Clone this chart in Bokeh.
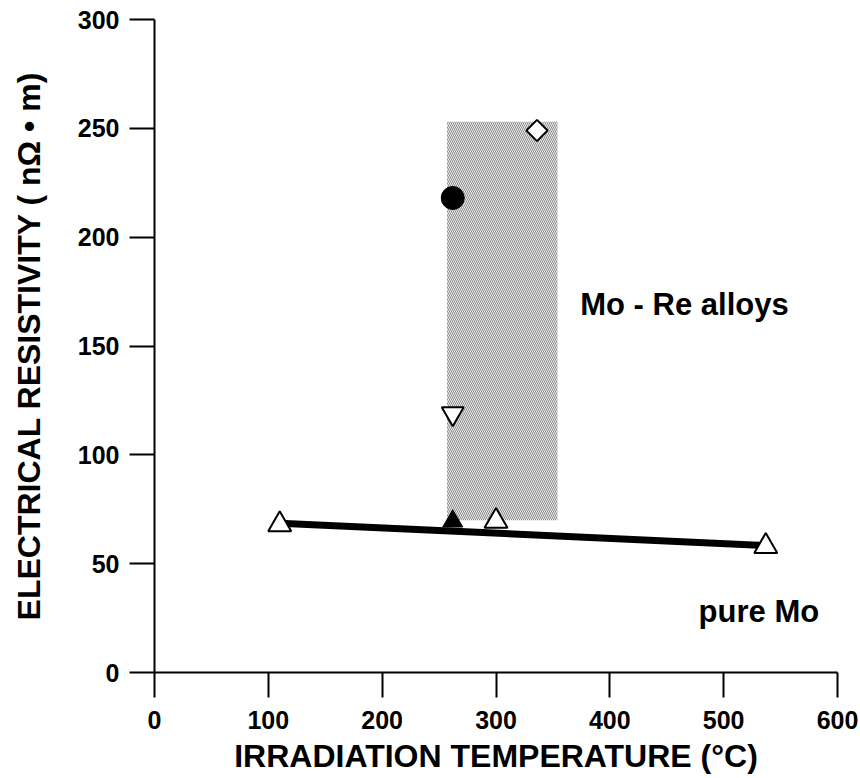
import math
from bokeh.plotting import figure
from bokeh.models import Label, FixedTicker
from bokeh.embed import file_html
from bokeh.resources import INLINE

# ---- data ----
x_ticks = [0, 100, 200, 300, 400, 500, 600]
y_ticks = [0, 50, 100, 150, 200, 250, 300]

# Mo-Re alloys scatter band
band_left = [257]
band_right = [354]
band_bottom = [70]
band_top = [253]

# pure Mo, open up-triangles
pure_mo_x = [110, 300, 537]
pure_mo_y = [68, 69.5, 58]
# pure Mo, filled triangle
pure_mo_filled_x = [262]
pure_mo_filled_y = [69.5]
# fit line through pure Mo
fit_x = [110, 537]
fit_y = [68.6, 58.3]

# Mo-Re alloys
alloy_circle_x = [262]
alloy_circle_y = [218]
alloy_invtri_x = [262]
alloy_invtri_y = [119]
alloy_diamond_x = [336]
alloy_diamond_y = [249]

label_alloys = ("Mo - Re alloys", 374, 169)
label_pure = ("pure Mo", 478, 28)

FONT = "Liberation Sans"

p = figure(
    frame_width=683, frame_height=653,
    x_range=(0, 600), y_range=(0, 300),
    output_backend="svg", toolbar_location=None,
    min_border_left=154, min_border_right=23,
    min_border_top=19, min_border_bottom=106,
    background_fill_color="white", border_fill_color="white",
)
p.outline_line_color = None
p.xgrid.visible = False
p.ygrid.visible = False

# band
p.quad(left=band_left, right=band_right, bottom=band_bottom, top=band_top,
       fill_color="#ececec", line_color=None,
       hatch_pattern="\\", hatch_color="#8c8c8c", hatch_scale=4, hatch_weight=1)

# fit line
p.line(fit_x, fit_y, line_color="black", line_width=7)

# markers
p.scatter(pure_mo_x, pure_mo_y, marker="triangle", size=23,
          fill_color="white", line_color="black", line_width=2)
p.scatter(pure_mo_filled_x, pure_mo_filled_y, marker="triangle", size=20,
          fill_color="black", line_color="black", line_width=1)
p.scatter(alloy_circle_x, alloy_circle_y, marker="circle", size=23,
          fill_color="black", line_color="black")
p.scatter(alloy_invtri_x, alloy_invtri_y, marker="inverted_triangle", size=22,
          fill_color="white", line_color="black", line_width=2)
p.scatter(alloy_diamond_x, alloy_diamond_y, marker="square", size=15, angle=math.pi / 4,
          fill_color="white", line_color="black", line_width=2)

# text labels
for txt, lx, ly in (label_alloys, label_pure):
    p.add_layout(Label(x=lx, y=ly, text=txt, text_font=FONT, text_font_style="bold",
                       text_font_size="31px", text_baseline="middle", text_align="left",
                       text_color="black"))

# axes
for ax in (p.xaxis[0], p.yaxis[0]):
    ax.axis_line_width = 2
    ax.axis_line_color = "black"
    ax.major_tick_line_width = 2
    ax.major_tick_line_color = "black"
    ax.major_tick_in = 0
    ax.major_tick_out = 25
    ax.minor_tick_line_color = None
    ax.major_label_text_font = FONT
    ax.major_label_text_font_style = "bold"
    ax.major_label_text_font_size = "25px"
    ax.major_label_text_color = "black"
    ax.axis_label_text_font = FONT
    ax.axis_label_text_font_style = "bold"
    ax.axis_label_text_font_size = "32px"
    ax.axis_label_text_color = "black"

p.xaxis.ticker = FixedTicker(ticks=x_ticks)
p.yaxis.ticker = FixedTicker(ticks=y_ticks)
p.xaxis.axis_label = "IRRADIATION TEMPERATURE (°C)"
p.yaxis.axis_label = "ELECTRICAL RESISTIVITY ( nΩ • m)"
p.xaxis.major_label_standoff = 13
p.xaxis.axis_label_standoff = 6
p.yaxis.major_label_standoff = 10
p.yaxis.axis_label_standoff = 28

open("out.html", "w").write(file_html(p, INLINE))
